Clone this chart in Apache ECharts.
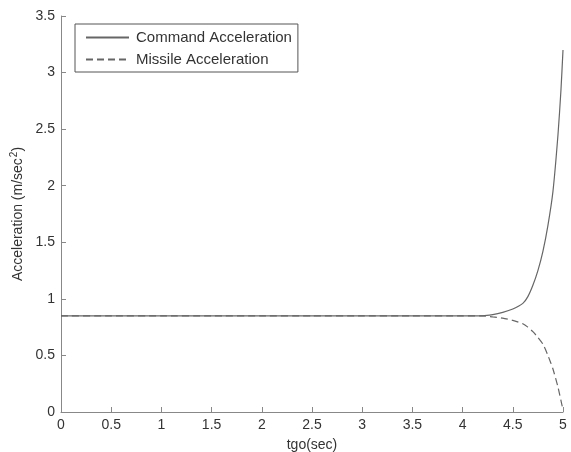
<!DOCTYPE html>
<html>
<head>
<meta charset="utf-8">
<script src="https://cdn.jsdelivr.net/npm/echarts@6/dist/echarts.min.js"></script>
<style>
  html, body { margin: 0; padding: 0; background: #fff; }
  #chart { width: 571px; height: 452px; }
</style>
</head>
<body>
<div id="chart"></div>
<script>
// tgo (sec) sample points
const tgo = [0, 0.5, 1, 1.5, 2, 2.5, 3, 3.5, 4, 4.2, 4.3, 4.4, 4.5, 4.6, 4.65, 4.7, 4.75, 4.8, 4.85, 4.9, 4.95, 4.98, 5.0];
const commandAcc = [0.85, 0.85, 0.85, 0.85, 0.85, 0.85, 0.85, 0.85, 0.85, 0.85, 0.86, 0.88, 0.91, 0.96, 1.02, 1.12, 1.25, 1.42, 1.65, 1.95, 2.45, 2.85, 3.2];
const missileAcc = [0.85, 0.85, 0.85, 0.85, 0.85, 0.85, 0.85, 0.85, 0.85, 0.85, 0.84, 0.83, 0.81, 0.78, 0.75, 0.71, 0.66, 0.6, 0.5, 0.38, 0.22, 0.1, 0.02];
const seriesNames = ['Command Acceleration', 'Missile Acceleration'];

const chart = echarts.init(document.getElementById('chart'));
const font = 'Liberation Sans, Arial, sans-serif';
const pair = (ys) => tgo.map((x, i) => [x, ys[i]]);

chart.setOption({
  backgroundColor: '#fff',
  animation: false,
  grid: { left: 61, right: 8, top: 16, bottom: 40, containLabel: false, outerBoundsMode: 'none' },
  legend: {
    left: 75, top: 24,
    orient: 'vertical',
    data: seriesNames,
    backgroundColor: '#fff',
    borderColor: '#555', borderWidth: 1,
    padding: [6, 6, 5, 10],
    itemGap: 7,
    itemWidth: 43, itemHeight: 14,
    itemStyle: { opacity: 0 },
    textStyle: { fontFamily: font, fontSize: 15, color: '#333', padding: [0, 0, 0, 2] }
  },
  xAxis: {
    type: 'value', min: 0, max: 5, interval: 0.5,
    name: 'tgo(sec)', nameLocation: 'middle', nameGap: 26,
    nameTextStyle: { fontFamily: font, fontSize: 14, color: '#333' },
    axisLine: { lineStyle: { color: '#888', width: 1 } },
    axisTick: { inside: true, length: 5, lineStyle: { color: '#888' } },
    axisLabel: { fontFamily: font, fontSize: 14, color: '#333', margin: 6 },
    splitLine: { show: false }
  },
  yAxis: {
    type: 'value', min: 0, max: 3.5, interval: 0.5,
    name: '{a|Acceleration (m/sec}{s|2}{a|)}', nameLocation: 'middle', nameGap: 34,
    nameMoveOverlap: false,
    nameTextStyle: {
      fontFamily: font, fontSize: 14, color: '#333',
      rich: {
        a: { fontFamily: font, fontSize: 14, color: '#333' },
        s: { fontFamily: font, fontSize: 10, color: '#333', padding: [0, 0, 8, 1] }
      }
    },
    axisLine: { show: true, lineStyle: { color: '#888', width: 1 } },
    axisTick: { show: true, inside: true, length: 5, lineStyle: { color: '#888' } },
    axisLabel: { fontFamily: font, fontSize: 14, color: '#333', margin: 6 },
    splitLine: { show: false }
  },
  series: [
    {
      name: seriesNames[0], type: 'line', data: pair(commandAcc),
      symbol: 'none', smooth: 0.2,
      lineStyle: { color: '#666', width: 1.2, type: 'solid' },
      itemStyle: { color: '#666' }
    },
    {
      name: seriesNames[1], type: 'line', data: pair(missileAcc),
      symbol: 'none', smooth: 0.2,
      lineStyle: { color: '#666', width: 1.2, type: [7, 4] },
      itemStyle: { color: '#666' }
    }
  ]
});
</script>
</body>
</html>
